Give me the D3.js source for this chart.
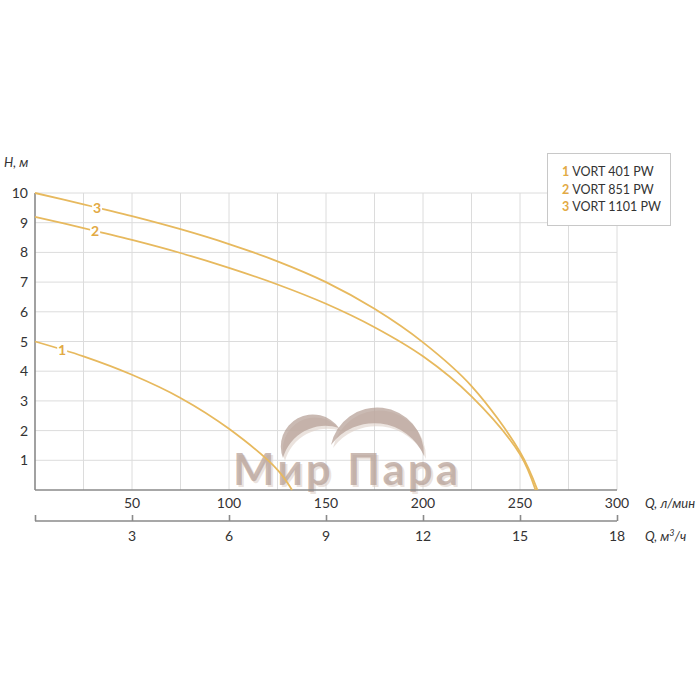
<!DOCTYPE html>
<html><head><meta charset="utf-8">
<script src="https://cdn.jsdelivr.net/npm/d3@7"></script>
<style>body{margin:0;background:#fff}svg{display:block}text{font-family:Lato,"Noto Sans",sans-serif}</style>
</head><body><svg id="c" width="700" height="700"></svg>
<script>
// Data
const seriesNames = ["1", "2", "3"];
const legendLabels = ["VORT 401 PW", "VORT 851 PW", "VORT 1101 PW"];
const q1 = [0, 25, 50, 75, 100, 125, 132.5];
const h1 = [5, 4.5, 3.88, 3.1, 2.06, 0.68, 0];
const q2 = [0, 25, 50, 75, 100, 125, 150, 175, 200, 225, 250, 258];
const h2 = [9.2, 8.82, 8.42, 7.98, 7.48, 6.92, 6.27, 5.48, 4.5, 3.15, 1.2, 0];
const q3 = [0, 25, 50, 75, 100, 125, 150, 175, 200, 225, 250, 259];
const h3 = [10, 9.62, 9.22, 8.78, 8.28, 7.7, 7.0, 6.1, 4.97, 3.5, 1.28, 0];
const labelQ = [14, 31, 32];
const xTicksLmin = [50, 100, 150, 200, 250, 300];
const xTicksM3h = [3, 6, 9, 12, 15, 18];
const yTicks = [1, 2, 3, 4, 5, 6, 7, 8, 9, 10];

const svg = d3.select("#c");
const x = d3.scaleLinear().domain([0, 300]).range([35, 617]);
const x2 = d3.scaleLinear().domain([0, 18]).range([35, 617]);
const y = d3.scaleLinear().domain([0, 10]).range([490, 193]);
const lineCol = "#e7b95e", labCol = "#e2aa45";

// grid
const g = svg.append("g");
g.selectAll(".vg").data(d3.range(25, 301, 25)).join("line")
  .attr("x1", d => x(d)).attr("x2", d => x(d)).attr("y1", y(0)).attr("y2", y(10))
  .attr("stroke", "#dcdcdc").attr("stroke-width", 1);
g.selectAll(".hg").data(yTicks).join("line")
  .attr("x1", x(0)).attr("x2", x(300)).attr("y1", d => y(d)).attr("y2", d => y(d))
  .attr("stroke", "#dcdcdc").attr("stroke-width", 1);

// watermark
const wm = svg.append("g");
const wmCol = "rgba(182,160,150,0.72)", wmShadow = "rgba(222,208,200,0.6)";
function crescent(ax, ay, bx, by, r1, r2) {
  return `M${ax},${ay} A${r1},${r1} 0 0 1 ${bx},${by} A${r2},${r2} 0 0 0 ${ax},${ay} Z`;
}
const arcs = [[283, 458, 339, 428, 32, 44], [331, 445, 424, 456, 47, 54]];
arcs.forEach(a => {
  wm.append("path").attr("d", crescent(a[0] + 2, a[1] + 3, a[2] + 2, a[3] + 3, a[4], a[5])).attr("fill", wmShadow);
  wm.append("path").attr("d", crescent(...a)).attr("fill", wmCol);
});
wm.append("text").attr("x", 235).attr("y", 487).attr("font-family", "Liberation Sans, Arial, sans-serif")
  .attr("font-weight", "bold").attr("font-size", 44).attr("fill", wmShadow).attr("textLength", 225).text("Мир Пара");
wm.append("text").attr("x", 233).attr("y", 485).attr("font-family", "Liberation Sans, Arial, sans-serif")
  .attr("font-weight", "bold").attr("font-size", 44).attr("fill", wmCol).attr("textLength", 225).text("Мир Пара");

// axes lines
svg.append("line").attr("x1", x(0)).attr("x2", x(0)).attr("y1", y(0)).attr("y2", y(10)).attr("stroke", "#8a8a8a").attr("stroke-width", 1.6);
svg.append("line").attr("x1", x(0)).attr("x2", x(300)).attr("y1", y(0)).attr("y2", y(0)).attr("stroke", "#8a8a8a").attr("stroke-width", 1.6);

// y tick labels
svg.selectAll(".yl").data(yTicks).join("text").attr("x", 28).attr("y", d => y(d) + 5)
  .attr("text-anchor", "end").attr("font-size", 14).attr("fill", "#333").text(d => d);
svg.append("text").attr("x", 4).attr("y", 167).attr("font-size", 13).attr("font-style", "italic").attr("fill", "#333").text("H, м");

// x tick labels (л/мин)
svg.selectAll(".xl").data(xTicksLmin).join("text").attr("x", d => x(d)).attr("y", 508)
  .attr("text-anchor", "middle").attr("font-size", 14).attr("fill", "#333").text(d => d);
svg.append("text").attr("x", 645).attr("y", 508).attr("font-size", 13).attr("font-style", "italic").attr("fill", "#333").text("Q, л/мин");

// second axis (м3/ч)
const ax2 = d3.axisTop(x2).tickValues([0].concat(xTicksM3h)).tickSize(6).tickFormat("");
const ga = svg.append("g").attr("transform", "translate(0,521)").call(ax2);
ga.select(".domain").attr("stroke", "#8a8a8a").attr("stroke-width", 1.6).attr("d", `M${x2(0)},0H${x2(18)}`);
ga.selectAll(".tick line").attr("stroke", "#8a8a8a").attr("stroke-width", 1.6);
svg.selectAll(".xl2").data(xTicksM3h).join("text").attr("x", d => x2(d)).attr("y", 541)
  .attr("text-anchor", "middle").attr("font-size", 14).attr("fill", "#333").text(d => d);
const t2 = svg.append("text").attr("x", 645).attr("y", 541).attr("font-size", 13).attr("font-style", "italic").attr("fill", "#333");
t2.append("tspan").text("Q, м");
t2.append("tspan").attr("font-size", 9).attr("dy", -5).text("3");
t2.append("tspan").attr("dy", 5).text("/ч");

// curves
const series = [[q1, h1], [q2, h2], [q3, h3]];
const line = d3.line().x(d => x(d[0])).y(d => y(d[1])).curve(d3.curveCatmullRom.alpha(0.5));
series.forEach((s, i) => {
  const pts = s[0].map((q, j) => [q, s[1][j]]);
  svg.append("path").attr("d", line(pts)).attr("fill", "none").attr("stroke", lineCol).attr("stroke-width", 1.8);
  const lq = labelQ[i];
  const lh = d3.scaleLinear().domain(s[0]).range(s[1])(lq);
  const lx = x(lq), ly = y(lh);
  svg.append("rect").attr("x", lx - 5).attr("y", ly - 7).attr("width", 10).attr("height", 14).attr("fill", "#fff");
  svg.append("text").attr("x", lx).attr("y", ly + 5).attr("text-anchor", "middle").attr("font-size", 14)
    .attr("font-weight", "bold").attr("fill", labCol).text(seriesNames[i]);
});

// legend
const lg = svg.append("g");
lg.append("rect").attr("x", 547.5).attr("y", 153.5).attr("width", 123).attr("height", 72).attr("fill", "#fff").attr("stroke", "#c8c8c8");
legendLabels.forEach((l, i) => {
  const t = lg.append("text").attr("x", 562).attr("y", 176 + i * 17.5).attr("font-size", 12.5).attr("fill", "#333");
  t.append("tspan").attr("fill", labCol).attr("font-weight", "bold").text(seriesNames[i]);
  t.append("tspan").attr("dx", 3).text(l);
});
</script></body></html>
